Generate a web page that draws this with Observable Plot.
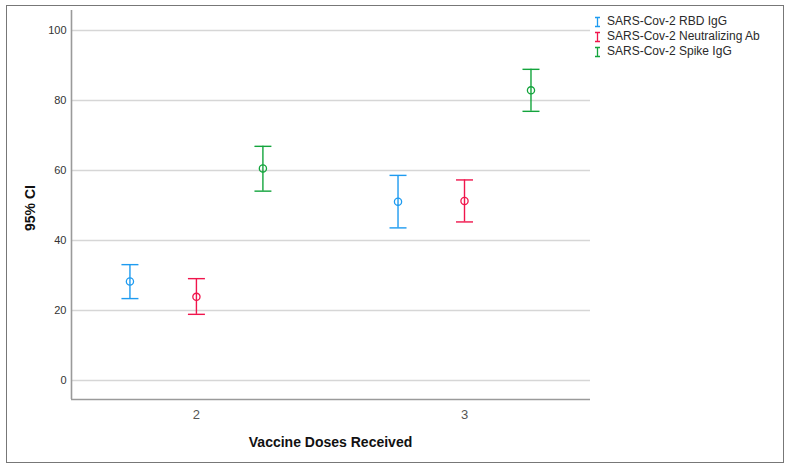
<!DOCTYPE html>
<html>
<head>
<meta charset="utf-8">
<script src="https://cdn.jsdelivr.net/npm/d3@7"></script>
<script src="https://cdn.jsdelivr.net/npm/@observablehq/plot@0.6"></script>
<style>
  html, body { margin: 0; padding: 0; background: #fff; }
  #wrap { position: relative; width: 792px; height: 470px; font-family: "Liberation Sans", Arial, sans-serif; }
  #border { position: absolute; left: 6px; top: 5px; width: 778px; height: 458px; border: 1.5px solid #777; box-sizing: border-box; pointer-events: none; }
  #legend { position: absolute; left: 594px; top: 14px; font-size: 12px; color: #2a2a2a; line-height: 15px; }
  #legend .row { display: flex; align-items: center; white-space: nowrap; }
  #legend svg.sw { position: static; margin-right: 6px; }
  #chart { position: absolute; left: 0; top: 0; }
</style>
</head>
<body>
<div id="wrap"><div id="chart"></div><div id="border"></div><div id="legend"></div></div>
<script>
// ---- data ----
const doses = [2, 3];
const seriesNames = ["SARS-Cov-2 RBD IgG", "SARS-Cov-2 Neutralizing Ab", "SARS-Cov-2 Spike IgG"];
const seriesColors = ["#1e9bf0", "#f0154c", "#13a43c"];
// per series, values for dose 2 and dose 3
const meanValues  = [[28.3, 51.1], [23.9, 51.3], [60.6, 82.9]];
const lowerValues = [[23.4, 43.6], [18.9, 45.3], [54.1, 76.9]];
const upperValues = [[33.1, 58.6], [29.1, 57.3], [66.9, 88.9]];
const yTicks = [0, 20, 40, 60, 80, 100];
const xTicks = [2, 3];

// layout constants
const dodge = 0.248;             // horizontal separation of series within a dose group (dose units)
const xDomain = [1.534, 3.47];
const yDomain = [-5.43, 105.71];

const rows = [];
seriesNames.forEach((s, i) => {
  doses.forEach((d, j) => {
    rows.push({series: s, si: i, dose: d, mean: meanValues[i][j], lo: lowerValues[i][j], hi: upperValues[i][j]});
  });
});
const xpos = d => d.dose + (d.si - 1) * dodge;

const capSymbol = {
  draw(context, size) {
    const r = Math.sqrt(size / Math.PI);
    context.moveTo(-r, 0);
    context.lineTo(r, 0);
  }
};

const chart = Plot.plot({
  width: 792,
  height: 470,
  marginLeft: 71,
  marginRight: 202,
  marginTop: 10,
  marginBottom: 71,
  style: {fontFamily: "'Liberation Sans', Arial, sans-serif", background: "transparent"},
  x: {domain: xDomain, ticks: xTicks, tickFormat: d3.format("d"), tickSize: 0, tickPadding: 10, label: null},
  y: {domain: yDomain, ticks: yTicks, tickSize: 0, tickPadding: 5, label: null},
  color: {domain: seriesNames, range: seriesColors},
  marks: [
    Plot.ruleY(yTicks, {stroke: "#d6d6d6", strokeWidth: 1.6}),
    Plot.ruleX([xDomain[0]], {stroke: "#9a9a9a", strokeWidth: 1.6}),
    Plot.ruleY([yDomain[0]], {stroke: "#9a9a9a", strokeWidth: 1.6}),
    Plot.ruleX(rows, {x: xpos, y1: "lo", y2: "hi", stroke: "series", strokeWidth: 1.4}),
    Plot.dot(rows, {x: xpos, y: "hi", stroke: "series", symbol: capSymbol, r: 8.5, strokeWidth: 1.4}),
    Plot.dot(rows, {x: xpos, y: "lo", stroke: "series", symbol: capSymbol, r: 8.5, strokeWidth: 1.4}),
    Plot.dot(rows, {x: xpos, y: "mean", stroke: "series", r: 3.6, strokeWidth: 1.3, fill: "none"})
  ]
});

const svg = d3.select(chart);
svg.selectAll("g[aria-label='y-axis tick label'] text, g[aria-label='y-axis'] text").attr("font-size", 11).attr("fill", "#333");
svg.selectAll("g[aria-label='x-axis tick label'] text, g[aria-label='x-axis'] text").attr("font-size", 13).attr("fill", "#555");

// axis titles
svg.append("text")
  .attr("x", 330.5).attr("y", 447)
  .attr("text-anchor", "middle")
  .attr("font-size", 14).attr("font-weight", "bold").attr("fill", "#111")
  .text("Vaccine Doses Received");
svg.append("text")
  .attr("transform", "translate(35,208) rotate(-90)")
  .attr("text-anchor", "middle")
  .attr("font-size", 14).attr("font-weight", "bold").attr("fill", "#111")
  .text("95% CI");

document.getElementById("chart").appendChild(chart);

const legend = d3.select("#legend");
seriesNames.forEach((s, i) => {
  const row = legend.append("div").attr("class", "row");
  const sw = row.append("svg").attr("class", "sw").attr("width", 7).attr("height", 12);
  sw.append("path")
    .attr("d", "M1,1.5H6M3.5,1.5V10.5M1,10.5H6")
    .attr("stroke", seriesColors[i]).attr("stroke-width", 1.3).attr("fill", "none");
  row.append("span").text(s);
});
</script>
</body>
</html>
